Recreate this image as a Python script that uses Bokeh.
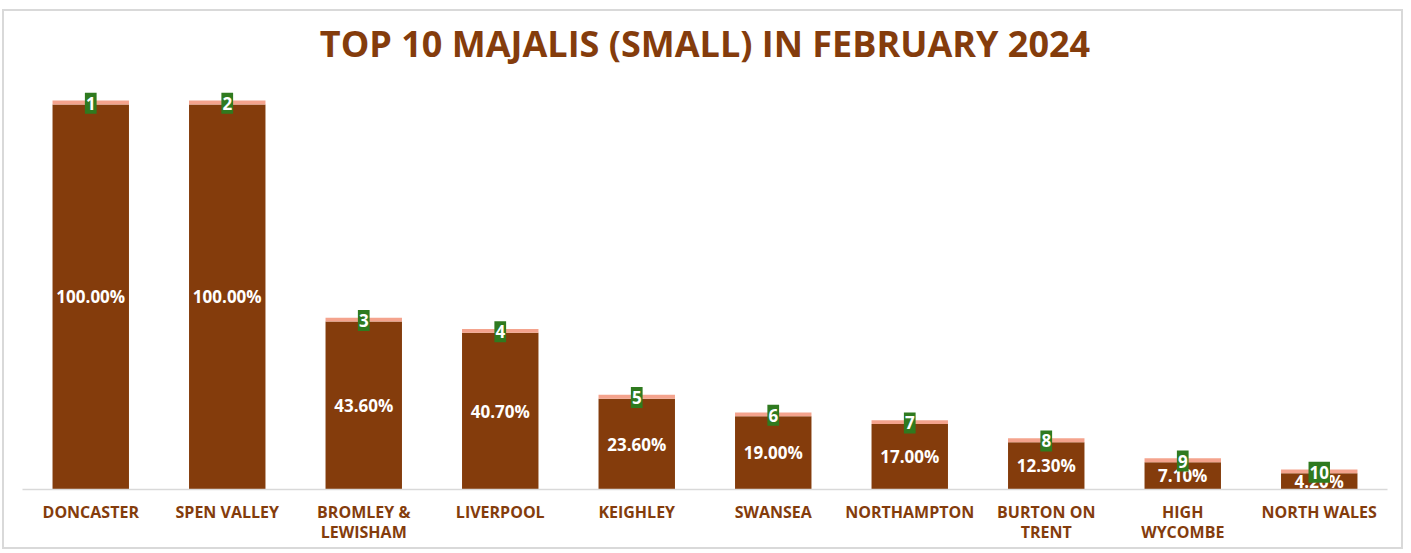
from bokeh.plotting import figure
from bokeh.models import Range1d, FactorRange, ColumnDataSource
from bokeh.embed import file_html
from bokeh.resources import INLINE
from bokeh.core.properties import value

# ---- data ----
categories = ["DONCASTER", "SPEN VALLEY", "BROMLEY &\nLEWISHAM", "LIVERPOOL", "KEIGHLEY",
              "SWANSEA", "NORTHAMPTON", "BURTON ON\nTRENT", "HIGH\nWYCOMBE", "NORTH WALES"]
percentages = [1.000, 1.000, 0.436, 0.407, 0.236, 0.190, 0.170, 0.123, 0.071, 0.042]
cap_series = [0.01, 0.01, 0.01, 0.01, 0.01, 0.01, 0.01, 0.01, 0.01, 0.01]
ranks = ["1", "2", "3", "4", "5", "6", "7", "8", "9", "10"]
title_text = "TOP 10 MAJALIS (SMALL) IN FEBRUARY 2024"

BROWN = "#843C0C"
PINK = "#F4A38D"
GREEN = "#2F7A1F"

src = ColumnDataSource(dict(
    cat=categories,
    pct=percentages,
    cap_top=[v + c for v, c in zip(percentages, cap_series)],
    mid=[v / 2 for v in percentages],
    rank_y=[v + c * 0.3 for v, c in zip(percentages, cap_series)],
    label=[f"{v * 100:.2f}%" for v in percentages],
    rank=ranks,
))

p = figure(x_range=FactorRange(*categories, range_padding=0),
           y_range=Range1d(0, 1.083),
           width=1401, height=540,
           y_axis_location=None,
           output_backend="svg", toolbar_location=None,
           min_border_left=18, min_border_right=18,
           min_border_top=55, min_border_bottom=62)
p.styles = {"border": "2px solid #D9D9D9", "margin-left": "2px", "margin-top": "9px"}

p.title.text = title_text
p.title.align = "center"
p.title.text_font = "Open Sans"
p.title.text_font_style = "bold"
p.title.text_font_size = "36px"
p.title.text_color = BROWN

p.grid.visible = False
p.outline_line_color = None

ax = p.xaxis[0]
ax.axis_line_color = "#D9D9D9"
ax.axis_line_width = 1.5
ax.major_tick_line_color = None
ax.minor_tick_line_color = None
ax.major_label_standoff = 5
ax.major_label_text_font = "Open Sans"
ax.major_label_text_font_style = "bold"
ax.major_label_text_font_size = "16px"
ax.major_label_text_line_height = 0.95
ax.major_label_text_color = BROWN

p.vbar(x="cat", top="pct", bottom=0, width=0.56, source=src,
       fill_color=BROWN, line_color=None)
p.vbar(x="cat", bottom="pct", top="cap_top", width=0.56, source=src,
       fill_color=PINK, line_color=None)

p.text(x="cat", y="mid", text="label", source=src,
       text_color="white", text_font=value("Open Sans"), text_font_style="bold",
       text_font_size="17px", text_align="center", text_baseline="middle")

p.text(x="cat", y="rank_y", text="rank", source=src,
       text_color="white", text_font=value("Open Sans"), text_font_style="bold",
       text_font_size="17px", text_align="center", text_baseline="middle",
       background_fill_color=GREEN, padding=(1, 4))

open("out.html", "w").write(file_html(p, INLINE))
